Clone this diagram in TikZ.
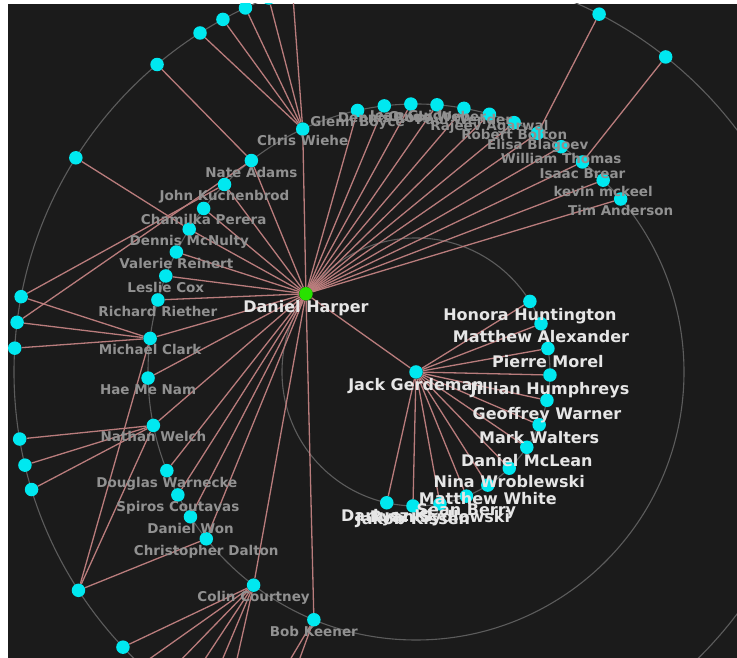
\documentclass[tikz,border=0pt]{standalone}
\usepackage{fontspec}
\setmainfont{DejaVu Sans}
\usepackage{xcolor}
\definecolor{fondoG}{RGB}{27,27,27}
\definecolor{cian}{RGB}{0,232,240}
\definecolor{verdeF}{RGB}{40,225,0}
\definecolor{arista}{RGB}{185,124,124}
\definecolor{anillo}{RGB}{92,92,92}
\definecolor{grisE}{RGB}{145,145,145}
\definecolor{claroE}{RGB}{230,230,230}
\usepackage{tikz}
\usetikzlibrary{positioning}
\pgfdeclarelayer{capaFondo}
\pgfdeclarelayer{capaAristas}
\pgfsetlayers{capaFondo,capaAristas,main}

\begin{document}
\begin{tikzpicture}[x=1pt, y=1pt,
    persona/.style={circle, fill=cian, inner sep=0pt, minimum size=13.5pt},
    etiq/.style={font=\bfseries\fontsize{13.5}{15}\selectfont, text=grisE, inner sep=0pt},
    etiqclara/.style={font=\bfseries\fontsize{16}{18}\selectfont, text=claroE, inner sep=0pt},
    enlace/.style={draw=arista, line width=1.3pt},
    aro/.style={draw=anillo, line width=1.1pt}]
  \useasboundingbox (0,0) rectangle (737,658);

  % Fondo y anillos
  \begin{pgfonlayer}{capaFondo}
    \fill[fondoG] (8,0) rectangle (737,654);
    \begin{scope}
      \clip (8,0) rectangle (737,654);
      \foreach \r in {134,268,402}
        \draw[aro] (416,286) circle (\r pt);
    \end{scope}
  \end{pgfonlayer}

  \begin{scope}
    \clip (8,0) rectangle (737,654);
    \begin{scope}[shift={(416,286)}]
      % Centro y primer anillo
      \node[persona] (jack) at (0,0) {};
      \node[persona, fill=verdeF] (harper) at (144.6:135) {};
      \foreach \n/\a in {hon/31.8, malex/21.1, pierre/10.1, jillian/-1.3,
                         geoffrey/-12.2, mark/-23.2, mclean/-34.2, nina/-45.9,
                         mwhite/-57.6, sean/-67.9, ryan/-79.7, kiss/-91.3, dariusz/-102.6}
        \node[persona] (\n) at (\a:134) {};

      % Segundo anillo (amigos de Daniel Harper)
      \foreach \n/\a in {chris/115.0, glenn/102.6, dennis/96.8, jean/91.1, guido/85.5,
                         wender/79.7, rajeev/74.1, robert/68.5, elisa/63.0, william/57.2,
                         isaac/51.6, kevin/45.7, tim/40.2,
                         nate/127.9, john/135.6, chamilka/142.4, mcnulty/147.8,
                         valerie/153.4, leslie/159.0, richard/164.4, michael/172.8,
                         hae/181.3, nathan/191.5, douglas/201.6, spiros/207.3,
                         won/212.7, dalton/218.5, colin/232.7, bob/247.6}
        \node[persona] (\n) at (\a:268) {};

      % Tercer anillo
      \foreach \n/\a in {c1/107.9, c2/111.5, c3/115.1, c4/118.7, c5/122.5,
                         c6/130.1, c7/147.8, c8/169.2, c9/172.9, c10/176.6,
                         c11/189.6, c12/193.4, c13/197.0, c14/212.9,
                         c15/223.2, c16/226.8, c17/230.4, c18/234.0, c19/237.6, c20/241.2,
                         c21/244.8, c22/248.4, c23/62.9, c24/51.6}
        \node[persona] (\n) at (\a:402) {};
    \end{scope}

    % Etiquetas
    \node[etiqclara, below=19pt of harper.center, anchor=base] (t-harper) {Daniel Harper};
    \node[etiqclara, below=19pt of jack.center, anchor=base] (t-jack) {Jack Gerdeman};
    \foreach \n/\t in {hon/Honora Huntington, malex/Matthew Alexander, pierre/Pierre Morel,
                       jillian/Jillian Humphreys, geoffrey/Geoffrey Warner, mark/Mark Walters,
                       mclean/Daniel McLean, nina/Nina Wroblewski, mwhite/Matthew White,
                       sean/Sean Berry, ryan/Ryan Sydlowski, kiss/Jakob Kissen, dariusz/Dariusz Kl}
      \node[etiqclara, below=19pt of \n.center, anchor=base] (t-\n) {\t};
    \foreach \n/\t in {chris/Chris Wiehe, glenn/Glenn Boyce, dennis/Dennis Ross,
                       jean/Jean Guido, guido/Guido Weber, wender/Paul Wender,
                       rajeev/Rajeev Agarwal, robert/Robert Bolton, elisa/Elisa Blagoev,
                       william/William Thomas, isaac/Isaac Brear, kevin/kevin mckeel,
                       tim/Tim Anderson, nate/Nate Adams, john/John Kuchenbrod,
                       chamilka/Chamilka Perera, mcnulty/Dennis McNulty,
                       valerie/Valerie Reinert, leslie/Leslie Cox, richard/Richard Riether,
                       michael/Michael Clark, hae/Hae Me Nam, nathan/Nathan Welch,
                       douglas/Douglas Warnecke, spiros/Spiros Coutavas, won/Daniel Won,
                       dalton/Christopher Dalton, colin/Colin Courtney, bob/Bob Keener}
      \node[etiq, below=16.5pt of \n.center, anchor=base] (t-\n) {\t};
  \end{scope}

  % Aristas
  \begin{pgfonlayer}{capaAristas}
    \begin{scope}
      \clip (8,0) rectangle (737,654);
      \foreach \n in {hon, malex, pierre, jillian, geoffrey, mark, mclean, nina,
                      mwhite, sean, ryan, kiss, dariusz, harper}
        \draw[enlace] (jack) -- (\n);
      \foreach \n in {chris, glenn, dennis, jean, guido, wender, rajeev, robert, elisa,
                      william, isaac, kevin, tim, nate, john, chamilka, mcnulty, valerie,
                      leslie, richard, michael, hae, nathan, douglas, spiros, won, dalton,
                      colin, bob}
        \draw[enlace] (harper) -- (\n);
      \foreach \a/\b in {c1/chris, c2/chris, c3/chris, c4/chris, c5/chris, c6/nate,
                         c7/mcnulty, c8/michael, c8/john, c9/michael, c9/nate, c10/michael,
                         c11/nathan, c12/nathan, c13/nathan, c14/michael, c14/nathan,
                         c14/dalton, c15/colin, c16/colin, c17/colin, c18/colin, c19/colin,
                         c20/colin, c21/bob, c22/bob, c23/elisa, c24/isaac}
        \draw[enlace] (\a) -- (\b);
    \end{scope}
  \end{pgfonlayer}
\end{tikzpicture}
\end{document}
